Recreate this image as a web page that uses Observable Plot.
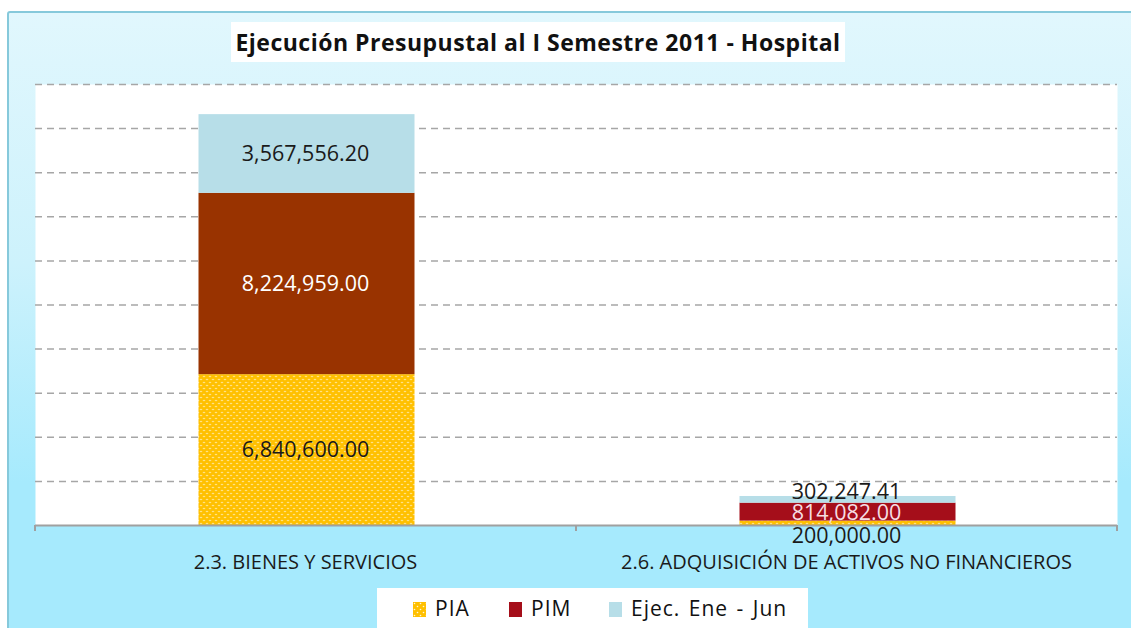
<!DOCTYPE html>
<html><head><meta charset="utf-8">
<script src="https://cdn.jsdelivr.net/npm/d3@7"></script>
<script src="https://cdn.jsdelivr.net/npm/@observablehq/plot@0.6"></script>
<style>
body{margin:0;background:#fff;}
#wrap{position:relative;width:1131px;height:628px;overflow:hidden;font-family:"Open Sans",sans-serif;}
#bg{position:absolute;left:7px;top:11px;width:1140px;height:640px;border:2px solid #86c9db;border-radius:3px;box-sizing:border-box;
  background:linear-gradient(#e1f7fd 0px,#cdf2fc 250px,#a6eafd 470px,#a6eafd 100%);}
#chart{position:absolute;left:0;top:0;}
#title{position:absolute;left:231px;top:22px;width:614px;height:40px;background:#fff;font-weight:bold;font-size:23px;letter-spacing:0.5px;line-height:40px;text-align:center;color:#111;white-space:nowrap;}
#legend{position:absolute;left:377px;top:588px;width:431px;height:50px;background:#fff;font-size:21px;letter-spacing:1px;word-spacing:2px;color:#111;}
#legend .item{position:absolute;top:6px;white-space:nowrap;line-height:28px;}
#legend .sw{display:inline-block;width:13px;height:15px;vertical-align:-1px;margin-right:9px;}
</style></head>
<body><div id="wrap"><div id="bg"></div><div id="chart"></div><div id="title"></div><div id="legend"></div></div>
<script>
const chartTitle = "Ejecución Presupustal al I Semestre 2011 - Hospital";
const categories = ["2.3. BIENES Y SERVICIOS", "2.6. ADQUISICIÓN DE ACTIVOS NO FINANCIEROS"];
const series = ["PIA", "PIM", "Ejec. Ene - Jun"];
const piaValues = [6840600.00, 200000.00];
const pimValues = [8224959.00, 814082.00];
const ejecValues = [3567556.20, 302247.41];
const yMax = 20000000;
const gridStep = 2000000;

const seriesValues = [piaValues, pimValues, ejecValues];
const barFills = [["url(#piaDots)", "url(#piaDots)"], ["#993300", "#A50E1A"], ["#B7DEE8", "#B7DEE8"]];
const labelInk = [["#1a1a1a", "#1a1a1a"], ["#ffffff", "#f6dde2"], ["#1a1a1a", "#1a1a1a"]];
const legendFills = ["url(#piaDotsL)", "#A50E1A", "#B7DEE8"];

const rows = [];
categories.forEach((cat, i) => {
  let base = 0;
  series.forEach((s, k) => {
    const v = seriesValues[k][i];
    rows.push({cat, ci: i, series: s, sk: k, value: v, y1: base, y2: base + v, fill: barFills[k][i], ink: labelInk[k][i]});
    base += v;
  });
});
const fmt = d3.format(",.2f");
const mid = d => (d.y1 + d.y2) / 2;
const textOpts = {fontSize: 21.5, fontFamily: "Open Sans"};

const tickMark = (index, scales, values, dims) => {
  const g = d3.create("svg:g");
  const n = categories.length;
  const x0 = dims.marginLeft, w = dims.width - dims.marginLeft - dims.marginRight;
  const yb = scales.y(0);
  for (let i = 0; i <= n; i++) {
    const x = x0 + i * w / n;
    g.append("line").attr("x1", x).attr("x2", x).attr("y1", yb).attr("y2", yb + 6)
      .attr("stroke", "#a0a0a0").attr("stroke-width", 2);
  }
  return g.node();
};

const plot = Plot.plot({
  width: 1131, height: 628,
  marginLeft: 35, marginRight: 14, marginTop: 84, marginBottom: 103,
  style: {background: "transparent", fontFamily: "Open Sans"},
  x: {domain: categories, paddingInner: 0.6, paddingOuter: 0.3, label: null},
  y: {domain: [0, yMax], axis: null},
  color: {type: "identity"},
  marks: [
    Plot.frame({fill: "white", stroke: "none"}),
    Plot.ruleY(d3.range(gridStep, yMax + 1, gridStep), {stroke: "#a6a6a6", strokeWidth: 1.5, strokeDasharray: "7,5"}),
    Plot.barY(rows, {x: "cat", y1: "y1", y2: "y2", fill: "fill", dx: 1.5}),
    Plot.ruleY([0], {stroke: "#a0a0a0", strokeWidth: 2}),
    tickMark,
    Plot.axisX({tickSize: 0, tickPadding: 29, fontSize: 20, fill: "#1a1a1a", style: "letter-spacing:0.3px"}),
    Plot.text(rows, {filter: d => d.ci === 0, x: "cat", y: mid, text: d => fmt(d.value), fill: "ink", ...textOpts}),
    Plot.text(rows, {filter: d => d.ci === 1 && d.sk === 0, x: "cat", y: mid, text: d => fmt(d.value), fill: "ink", dy: 13, ...textOpts}),
    Plot.text(rows, {filter: d => d.ci === 1 && d.sk === 1, x: "cat", y: mid, text: d => fmt(d.value), fill: "ink", dy: 1, ...textOpts}),
    Plot.text(rows, {filter: d => d.ci === 1 && d.sk === 2, x: "cat", y: mid, text: d => fmt(d.value), fill: "ink", dy: -8, ...textOpts})
  ]
});

// dotted pattern for PIA
const ns = "http://www.w3.org/2000/svg";
function addPattern(svg, id) {
  const defs = document.createElementNS(ns, "defs");
  const p = document.createElementNS(ns, "pattern");
  p.setAttribute("id", id); p.setAttribute("width", 6); p.setAttribute("height", 6);
  p.setAttribute("patternUnits", "userSpaceOnUse");
  const r = document.createElementNS(ns, "rect");
  r.setAttribute("width", 6); r.setAttribute("height", 6); r.setAttribute("fill", "#FFC000");
  p.appendChild(r);
  [[1.5, 1.5], [4.5, 4.5]].forEach(([cx, cy]) => {
    const c = document.createElementNS(ns, "circle");
    c.setAttribute("cx", cx); c.setAttribute("cy", cy); c.setAttribute("r", 0.8);
    c.setAttribute("fill", "#fff"); c.setAttribute("fill-opacity", 0.85);
    p.appendChild(c);
  });
  defs.appendChild(p);
  svg.insertBefore(defs, svg.firstChild);
}
addPattern(plot, "piaDots");
document.getElementById("chart").appendChild(plot);
document.getElementById("title").textContent = chartTitle;

// legend
const legend = document.getElementById("legend");
const legendSvg = document.createElementNS(ns, "svg");
legendSvg.setAttribute("width", 0); legendSvg.setAttribute("height", 0);
legendSvg.style.position = "absolute";
addPattern(legendSvg, "piaDotsL");
legend.appendChild(legendSvg);
const legendX = [36, 132, 232];
series.forEach((s, k) => {
  const item = document.createElement("div");
  item.className = "item";
  item.style.left = legendX[k] + "px";
  item.innerHTML = `<svg class="sw" viewBox="0 0 13 15"><rect width="13" height="15" fill="${legendFills[k]}"/></svg>`;
  item.appendChild(document.createTextNode(s));
  legend.appendChild(item);
});
</script>
</body></html>
